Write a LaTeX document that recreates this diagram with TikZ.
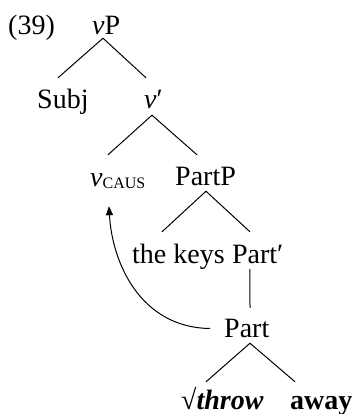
\documentclass[tikz,border=0pt]{standalone}
\usepackage{fontspec}
\setmainfont{Liberation Serif}
\usetikzlibrary{arrows.meta}

\begin{document}
\begin{tikzpicture}[x=1pt, y=-1pt,
  lbl/.style={inner sep=0pt, anchor=base west, text height=19pt, text depth=6pt,
              font=\fontsize{28}{30}\selectfont},
  branch/.style={line width=1pt},
  move/.style={line width=1pt, -{Triangle[length=9pt,width=7pt]}}]
  \useasboundingbox (0,0) rectangle (351,414);

  % labels of the tree
  \node[lbl] (ex)    at (8,35)    {(39)};
  \node[lbl] (vP)    at (92,35)   {\textit{v}P};
  \node[lbl] (subj)  at (37,109)  {Subj};
  \node[lbl] (vbar)  at (144,109) {\textit{v}\char"2032};
  \node[lbl] (vcaus) at (90,186)
    {\textit{v}\raisebox{-2pt}{\fontsize{16}{16}\selectfont CAUS}};
  \node[lbl] (partp) at (175,185) {PartP};
  \node[lbl] (keys)  at (132,263) {the keys};
  \node[lbl] (partbar) at ([xshift=7pt]keys.base east) {Part\char"2032};
  \node[lbl] (part)  at (224,337) {Part};
  \node[lbl] (throw) at (181,409) {\textbf{√\textit{throw}}};
  \node[lbl] (away)  at (290,409) {\textbf{away}};

  % branches
  \draw[branch] ([xshift=11pt,yshift=3pt]vP.south west) -- ([xshift=21pt,yshift=12pt]subj.north west);
  \draw[branch] ([xshift=11pt,yshift=3pt]vP.south west) -- ([xshift=2pt,yshift=12pt]vbar.north west);
  \draw[branch] ([xshift=8pt]vbar.south west) -- ([xshift=18pt,yshift=12pt]vcaus.north west);
  \draw[branch] ([xshift=8pt]vbar.south west) -- ([xshift=22pt,yshift=11pt]partp.north west);
  \draw[branch] ([xshift=31pt]partp.south west) -- ([xshift=30pt,yshift=12pt]keys.north west);
  \draw[branch] ([xshift=31pt]partp.south west) -- ([xshift=18pt,yshift=12pt]partbar.north west);
  \draw[branch] ([xshift=18pt]partbar.south west) -- ([xshift=26pt,yshift=10pt]part.north west);
  \draw[branch] ([xshift=26pt]part.south west) -- ([xshift=25pt,yshift=8pt]throw.north west);
  \draw[branch] ([xshift=26pt]part.south west) -- ([xshift=5pt,yshift=8pt]away.north west);

  % head movement of Part to v
  \draw[move] ([xshift=-14pt,yshift=2pt]part.west)
    .. controls +(-70,-1) and +(3,56) .. ([xshift=19pt,yshift=-14pt]vcaus.south west);
\end{tikzpicture}
\end{document}
